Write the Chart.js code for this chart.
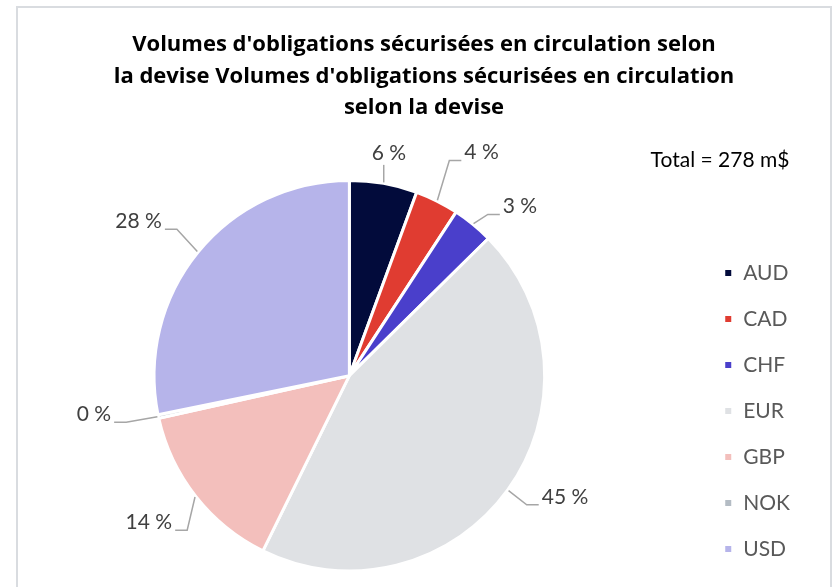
<!DOCTYPE html>
<html>
<head>
<meta charset="utf-8">
<script src="https://cdn.jsdelivr.net/npm/chart.js@4.4.1/dist/chart.umd.min.js"></script>
<style>
  html, body { margin: 0; padding: 0; background: #fff; overflow: hidden; }
  #frame { position: absolute; left: 16px; top: 6px; width: 816px; height: 640px; border: 2px solid #d9dce0; box-sizing: border-box; }
  #wrap { position: absolute; left: 0; top: 0; width: 832px; height: 587px; }
</style>
</head>
<body>
<div id="frame"></div>
<div id="wrap"><canvas id="chart"></canvas></div>
<script>
// ─── data ────────────────────────────────────────────────────────────────────
const currencies = ["AUD", "CAD", "CHF", "EUR", "GBP", "NOK", "USD"];
const shares = [5.6, 3.6, 3.4, 44.7, 14.2, 0.3, 28.2];   // % of total outstanding
const sliceColors = ["#020b3b", "#e03c31", "#4a3fcb", "#dfe1e4", "#f3bfbc", "#b4bcc4", "#b6b4ea"];
const titleLines = [
  "Volumes d'obligations sécurisées en circulation selon",
  "la devise Volumes d'obligations sécurisées en circulation",
  "selon la devise",
];
const totalText = "Total = 278 m$";

// label nudges (degrees, px beyond the rim) so the percentages sit like the original
const labelNudge = [[0, 31], [4, 64], [6, 45], [-6.5, 52], [2, 53], [3.5, 63], [-3, 66]];

const FONT = "Lato, 'Open Sans', sans-serif";

// ─── outside labels with leader lines ────────────────────────────────────────
const outsideLabels = {
  id: "outsideLabels",
  afterDatasetsDraw(chart) {
    const ctx = chart.ctx;
    const meta = chart.getDatasetMeta(0);
    const total = shares.reduce((a, b) => a + b, 0);
    ctx.save();
    ctx.font = "21px " + FONT;
    ctx.textAlign = "center";
    ctx.textBaseline = "middle";
    meta.data.forEach((arc, i) => {
      const { x, y, startAngle, endAngle, outerRadius } =
        arc.getProps(["x", "y", "startAngle", "endAngle", "outerRadius"], true);
      const mid = (startAngle + endAngle) / 2;
      const [dA, gap] = labelNudge[i];
      const a = mid + dA * Math.PI / 180;
      const text = Math.round(shares[i] / total * 100) + " %";
      const w = ctx.measureText(text).width;
      const tx = x + (outerRadius + gap) * Math.cos(a);
      const ty = y + (outerRadius + gap) * Math.sin(a);
      const ex = x + (outerRadius + 1) * Math.cos(mid);
      const ey = y + (outerRadius + 1) * Math.sin(mid);

      ctx.strokeStyle = "#a6a6a6";
      ctx.lineWidth = 1.5;
      ctx.beginPath();
      if (Math.abs(tx - ex) < w / 2) {
        ctx.moveTo(ex, ey);
        ctx.lineTo(ex, ty + 12);
      } else {
        const side = tx > ex ? 1 : -1;
        const hx = tx - side * (w / 2 + 3), hy = ty + 8;
        let kx = hx - side * 12;
        if (side * (kx - ex) < 0) kx = hx;
        ctx.moveTo(ex, ey);
        ctx.lineTo(kx, hy);
        ctx.lineTo(hx, hy);
      }
      ctx.stroke();

      ctx.fillStyle = "#404040";
      ctx.fillText(text, tx, ty);
    });

    // total annotation
    ctx.font = "21px " + FONT;
    ctx.fillStyle = "#000";
    ctx.fillText(totalText, chart.width - 112, 160);
    ctx.restore();
  },
};

// nudge legend down and title right to line up with the original
const layoutShift = {
  id: "layoutShift",
  afterLayout(chart) {
    chart.legend.top += 12;
    chart.legend.bottom += 12;
    chart.titleBlock.left += 24;
    chart.titleBlock.right += 24;
  },
};

new Chart(document.getElementById("chart"), {
  type: "pie",
  data: {
    labels: currencies,
    datasets: [{
      data: shares,
      backgroundColor: sliceColors,
      borderColor: "#ffffff",
      borderWidth: 3,
    }],
  },
  options: {
    responsive: true,
    maintainAspectRatio: false,
    animation: false,
    layout: { padding: { left: 0, right: 32, top: 0, bottom: 14.5 } },
    plugins: {
      title: {
        display: true,
        text: titleLines,
        color: "#000",
        font: { family: "'Open Sans', sans-serif", size: 22, weight: "bold", lineHeight: 1.43 },
        padding: { top: 29.5, bottom: 55 },
      },
      legend: {
        position: "right",
        align: "end",
        labels: {
          boxWidth: 9,
          boxHeight: 9,
          padding: 25,
          color: "#595959",
          font: { family: FONT, size: 21 },
        },
      },
      tooltip: { enabled: false },
    },
  },
  plugins: [outsideLabels, layoutShift],
});
</script>
</body>
</html>
